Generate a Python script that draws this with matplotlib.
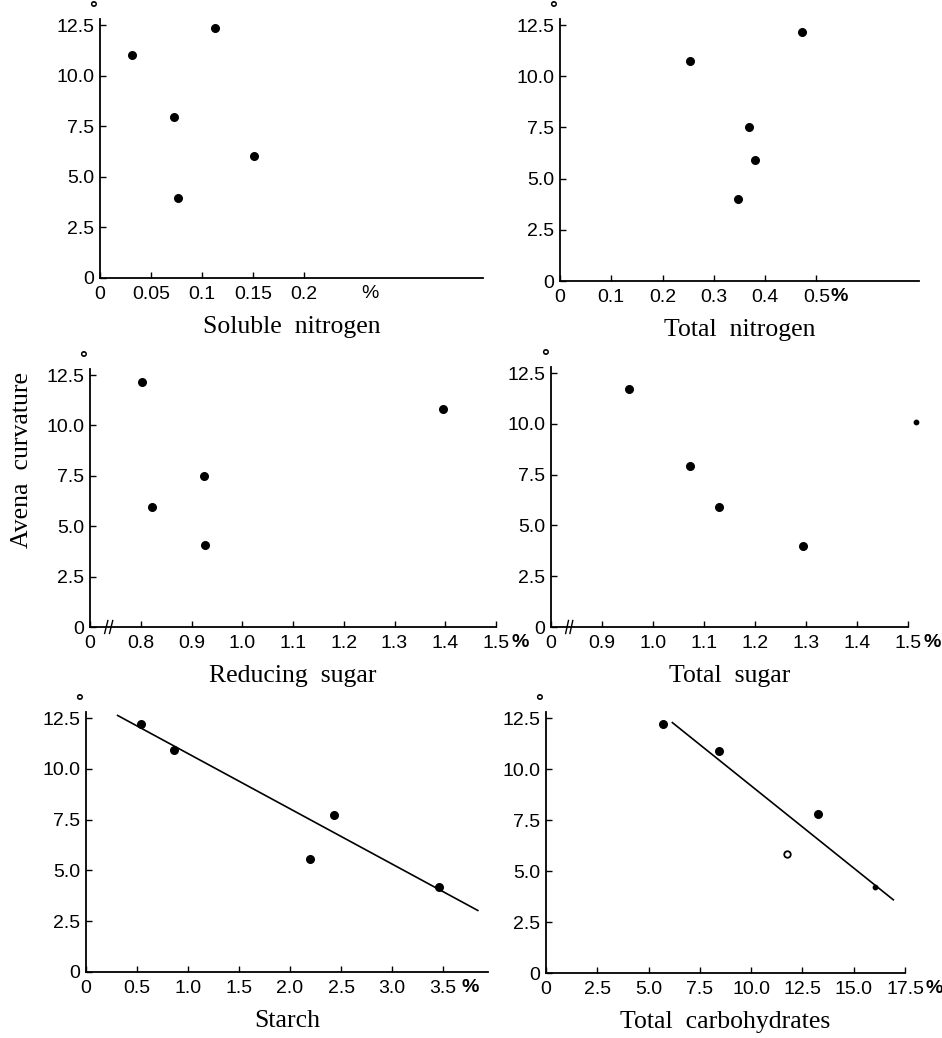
import matplotlib
matplotlib.use("Agg")
import matplotlib.pyplot as plt
from matplotlib.transforms import blended_transform_factory, offset_copy

# ---------------- data ----------------
curv_ticks = [0, 2.5, 5.0, 7.5, 10.0, 12.5]
curv_labels = ["0", "2.5", "5.0", "7.5", "10.0", "12.5"]

soln_x = [0.031, 0.113, 0.0725, 0.076, 0.151]
soln_y = [11.0, 12.35, 7.95, 3.95, 6.05]
soln_ticks = [0, 0.05, 0.1, 0.15, 0.2]
soln_labels = ["0", "0.05", "0.1", "0.15", "0.2"]

totn_x = [0.253, 0.472, 0.369, 0.381, 0.348]
totn_y = [10.75, 12.15, 7.5, 5.9, 4.0]
totn_ticks = [0, 0.1, 0.2, 0.3, 0.4, 0.5]
totn_labels = ["0", "0.1", "0.2", "0.3", "0.4", "0.5"]

reds_x = [0.802, 0.823, 0.924, 0.926, 1.395]
reds_y = [12.15, 5.95, 7.5, 4.05, 10.8]
reds_ticks = [0.7, 0.8, 0.9, 1.0, 1.1, 1.2, 1.3, 1.4, 1.5]
reds_labels = ["0", "0.8", "0.9", "1.0", "1.1", "1.2", "1.3", "1.4", "1.5"]

tots_x = [0.953, 1.072, 1.130, 1.294]
tots_y = [11.7, 7.95, 5.9, 4.0]
tots_small_x = [1.516]
tots_small_y = [10.1]
tots_ticks = [0.8, 0.9, 1.0, 1.1, 1.2, 1.3, 1.4, 1.5]
tots_labels = ["0", "0.9", "1.0", "1.1", "1.2", "1.3", "1.4", "1.5"]

starch_x = [0.536, 0.863, 2.196, 2.434, 3.464]
starch_y = [12.2, 10.95, 5.55, 7.75, 4.2]
starch_fit_x = [0.31, 3.84]
starch_fit_y = [12.63, 3.03]
starch_ticks = [0, 0.5, 1.0, 1.5, 2.0, 2.5, 3.0, 3.5]
starch_labels = ["0", "0.5", "1.0", "1.5", "2.0", "2.5", "3.0", "3.5"]

carb_x = [5.69, 8.45, 13.24]
carb_y = [12.2, 10.9, 7.8]
carb_open_x = [11.73]
carb_open_y = [5.85]
carb_small_x = [16.03]
carb_small_y = [4.22]
carb_fit_x = [6.16, 16.93]
carb_fit_y = [12.28, 3.59]
carb_ticks = [0, 2.5, 5.0, 7.5, 10.0, 12.5, 15.0, 17.5]
carb_labels = ["0", "2.5", "5.0", "7.5", "10.0", "12.5", "15.0", "17.5"]

# ---------------- layout ----------------
W, H = 942, 1038
fig = plt.figure(figsize=(W / 100, H / 100), dpi=100)
fig.patch.set_facecolor("white")

SERIF = ["Liberation Serif", "DejaVu Serif"]
SANS = ["Liberation Sans", "DejaVu Sans"]
TICK_FS = 14
LABEL_FS = 18.5


def rect(x0, x1, ytop, ybot):
    return [x0 / W, 1 - ybot / H, (x1 - x0) / W, (ybot - ytop) / H]


def style(ax, xlim, xticks, xlabels, xlabel, pct_tick=None, pct_dx=14):
    ax.set_xlim(*xlim)
    ax.set_ylim(0, 12.8)
    for s in ("top", "right"):
        ax.spines[s].set_visible(False)
    for s in ("left", "bottom"):
        ax.spines[s].set_linewidth(1.3)
        ax.spines[s].set_color("black")
    ax.set_xticks(xticks)
    ax.set_xticklabels(xlabels, family=SANS, fontsize=TICK_FS)
    ax.set_yticks(curv_ticks)
    ax.set_yticklabels(curv_labels, family=SANS, fontsize=TICK_FS)
    ax.tick_params(axis="x", direction="in", length=4, width=1.0, pad=6)
    ax.tick_params(axis="y", direction="in", length=4, width=1.0, pad=4)
    ax.set_xlabel(xlabel, family=SERIF, fontsize=LABEL_FS, labelpad=9)
    # degree sign above the top of the y axis
    ax.text(-0.018, 1.005, "°", transform=ax.transAxes, fontsize=14,
            family=SANS, ha="center", va="bottom", fontweight="bold")
    if pct_tick is not None:
        tr = blended_transform_factory(ax.transData, ax.transAxes)
        tr = offset_copy(tr, fig=fig, x=pct_dx, y=-5, units="points")
        ax.text(pct_tick, 0, "%", transform=tr, fontsize=TICK_FS, family=SANS,
                ha="left", va="top", fontweight="bold")


def brk(ax, xfrac):
    for dx in (0.0, 0.012):
        ax.plot([xfrac + dx - 0.004, xfrac + dx + 0.004], [-0.025, 0.025],
                transform=ax.transAxes, color="black", lw=1.0, clip_on=False)


MS = 30

# Panel 1: soluble nitrogen
ax1 = fig.add_axes(rect(100, 483, 19, 278))
ax1.scatter(soln_x, soln_y, s=MS, color="black", clip_on=False, zorder=3)
style(ax1, (0, 0.375), soln_ticks, soln_labels, "Soluble  nitrogen")
tr = offset_copy(blended_transform_factory(ax1.transData, ax1.transAxes),
                 fig=fig, x=0, y=-5, units="points")
ax1.text(0.264, 0, "%", transform=tr, fontsize=TICK_FS, family=SANS,
         ha="center", va="top")

# Panel 2: total nitrogen
ax2 = fig.add_axes(rect(560, 919, 19, 281))
ax2.scatter(totn_x, totn_y, s=MS, color="black", clip_on=False, zorder=3)
style(ax2, (0, 0.7), totn_ticks, totn_labels, "Total  nitrogen",
      pct_tick=0.5, pct_dx=10)

# Panel 3: reducing sugar
ax3 = fig.add_axes(rect(90, 496, 369, 627))
ax3.scatter(reds_x, reds_y, s=MS, color="black", clip_on=False, zorder=3)
style(ax3, (0.7, 1.5), reds_ticks, reds_labels, "Reducing  sugar",
      pct_tick=1.5, pct_dx=11)
brk(ax3, 0.04)

# shared y label
fig.text(22 / W, 1 - 460 / H, "Avena  curvature", family=SERIF,
         fontsize=LABEL_FS, rotation=90, ha="center", va="center")

# Panel 4: total sugar
ax4 = fig.add_axes(rect(551, 908, 367, 627))
ax4.scatter(tots_x, tots_y, s=MS, color="black", clip_on=False, zorder=3)
ax4.scatter(tots_small_x, tots_small_y, s=10, color="black", clip_on=False,
            zorder=3)
style(ax4, (0.8, 1.5), tots_ticks, tots_labels, "Total  sugar",
      pct_tick=1.5, pct_dx=11)
brk(ax4, 0.045)

# Panel 5: starch
ax5 = fig.add_axes(rect(86, 488, 712, 972))
ax5.plot(starch_fit_x, starch_fit_y, color="black", lw=1.2)
ax5.scatter(starch_x, starch_y, s=MS, color="black", clip_on=False, zorder=3)
style(ax5, (0, 3.94), starch_ticks, starch_labels, "Starch",
      pct_tick=3.5, pct_dx=13)

# Panel 6: total carbohydrates
ax6 = fig.add_axes(rect(546, 905, 712, 973))
ax6.plot(carb_fit_x, carb_fit_y, color="black", lw=1.2)
ax6.scatter(carb_x, carb_y, s=MS, color="black", clip_on=False, zorder=3)
ax6.scatter(carb_open_x, carb_open_y, s=22, facecolor="white",
            edgecolor="black", linewidth=1.3, clip_on=False, zorder=3)
ax6.scatter(carb_small_x, carb_small_y, s=10, color="black", clip_on=False,
            zorder=3)
style(ax6, (0, 17.5), carb_ticks, carb_labels, "Total  carbohydrates",
      pct_tick=17.5, pct_dx=14.5)

fig.savefig("out.png", dpi=100, facecolor="white")
